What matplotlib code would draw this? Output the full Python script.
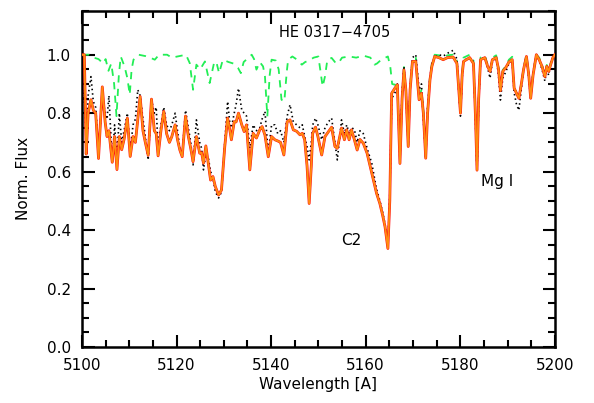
import matplotlib

matplotlib.use("Agg")
import matplotlib.pyplot as plt
from matplotlib.ticker import MultipleLocator

# model spectrum (synthetic, with C2)
wl_model = [
    5100.0, 5100.5, 5100.9, 5101.3, 5101.9, 5102.4, 5102.9, 5103.5, 5104.3, 5104.9,
    5105.3, 5105.7, 5106.4, 5106.9, 5107.4, 5107.9, 5108.4, 5108.9, 5109.6, 5110.2,
    5110.8, 5111.3, 5111.8, 5112.3, 5112.9, 5113.4, 5114.0, 5114.7, 5115.3, 5115.7,
    5116.1, 5116.7, 5117.3, 5117.9, 5118.5, 5119.0, 5119.7, 5120.2, 5120.7, 5121.2,
    5121.9, 5122.5, 5123.0, 5123.5, 5124.2, 5124.9, 5125.3, 5125.7, 5126.2, 5126.7,
    5127.2, 5127.7, 5128.2, 5128.9, 5129.5, 5130.2, 5130.8, 5131.3, 5131.6, 5132.2,
    5132.6, 5133.1, 5133.8, 5134.3, 5134.8, 5135.5, 5136.2, 5136.9, 5137.6, 5138.1,
    5138.7, 5139.4, 5140.1, 5140.8, 5141.4, 5142.0, 5142.7, 5143.4, 5144.0, 5144.7,
    5145.4, 5146.1, 5146.6, 5147.1, 5147.6, 5148.05, 5148.5, 5148.8, 5149.4, 5149.9,
    5150.7, 5151.4, 5152.1, 5152.8, 5153.5, 5154.0, 5154.9, 5155.5, 5156.0, 5156.5,
    5157.0, 5157.6, 5158.2, 5158.8, 5159.5, 5160.3, 5161.3, 5162.3, 5163.0, 5163.6,
    5164.1, 5164.7, 5165.1, 5165.5, 5166.2, 5166.7, 5167.25, 5167.7, 5168.1, 5168.5,
    5169.0, 5169.4, 5169.9, 5170.6, 5171.3, 5171.8, 5172.2, 5172.7, 5173.1, 5173.6,
    5174.0, 5174.6, 5175.5, 5176.4, 5177.3, 5178.5, 5179.3, 5179.7, 5180.05, 5180.4,
    5180.7, 5182.0, 5182.8, 5183.2, 5183.55, 5183.9, 5184.3, 5185.2, 5185.8, 5186.3,
    5186.8, 5187.6, 5188.1, 5188.5, 5189.0, 5189.6, 5190.3, 5191.0, 5191.4, 5191.9,
    5192.4, 5192.9, 5193.4, 5194.0, 5194.5, 5194.9, 5195.4, 5196.1, 5196.7, 5197.3,
    5197.9, 5198.3, 5198.7, 5199.2, 5199.6, 5200.0,
]
flux_model = [
    1.00, 1.00, 0.66, 0.80, 0.846, 0.81, 0.80, 0.645, 0.89, 0.77,
    0.72, 0.74, 0.632, 0.72, 0.607, 0.72, 0.675, 0.71, 0.783, 0.652,
    0.72, 0.70, 0.78, 0.857, 0.74, 0.70, 0.656, 0.848, 0.74, 0.73,
    0.654, 0.74, 0.806, 0.73, 0.70, 0.72, 0.76, 0.71, 0.674, 0.651,
    0.79, 0.72, 0.68, 0.634, 0.72, 0.663, 0.665, 0.629, 0.688, 0.629,
    0.571, 0.583, 0.549, 0.52, 0.537, 0.686, 0.783, 0.74, 0.709, 0.771,
    0.77, 0.80, 0.76, 0.737, 0.76, 0.606, 0.731, 0.715, 0.743, 0.754,
    0.725, 0.651, 0.72, 0.709, 0.705, 0.70, 0.657, 0.771, 0.777, 0.743,
    0.738, 0.726, 0.731, 0.709, 0.62, 0.491, 0.62, 0.731, 0.752, 0.72,
    0.657, 0.72, 0.736, 0.752, 0.686, 0.68, 0.749, 0.709, 0.743, 0.709,
    0.743, 0.71, 0.674, 0.71, 0.697, 0.663, 0.594, 0.526, 0.491, 0.45,
    0.411, 0.337, 0.50, 0.868, 0.886, 0.897, 0.628, 0.85, 0.948, 0.88,
    0.686, 0.88, 0.977, 0.977, 0.846, 0.868, 0.80, 0.646, 0.80, 0.914,
    0.96, 0.994, 0.99, 0.983, 0.99, 0.992, 0.97, 0.88, 0.80, 0.93,
    0.977, 0.99, 0.97, 0.80, 0.605, 0.85, 0.983, 0.99, 0.96, 0.943,
    0.983, 0.99, 0.95, 0.877, 0.943, 0.955, 0.975, 0.983, 0.886, 0.868,
    0.851, 0.897, 0.95, 0.994, 0.93, 0.851, 0.93, 1.00, 0.983, 0.96,
    0.925, 0.96, 0.943, 0.97, 0.99, 1.00,
]
# observed spectrum, read on the same wavelength grid
flux_obs = [
    0.82, 0.88, 0.70, 0.86, 0.925, 0.84, 0.82, 0.67, 0.86, 0.80,
    0.78, 0.86, 0.63, 0.76, 0.64, 0.80, 0.70, 0.74, 0.80, 0.67,
    0.76, 0.78, 0.88, 0.86, 0.78, 0.72, 0.64, 0.846, 0.80, 0.82,
    0.68, 0.76, 0.82, 0.76, 0.74, 0.76, 0.80, 0.74, 0.68, 0.657,
    0.81, 0.75, 0.70, 0.623, 0.777, 0.70, 0.68, 0.606, 0.66, 0.65,
    0.60, 0.58, 0.531, 0.51, 0.53, 0.70, 0.84, 0.76, 0.75, 0.80,
    0.83, 0.885, 0.81, 0.80, 0.79, 0.68, 0.76, 0.74, 0.75, 0.78,
    0.806, 0.663, 0.76, 0.76, 0.73, 0.74, 0.70, 0.79, 0.829, 0.77,
    0.76, 0.75, 0.76, 0.72, 0.686, 0.64, 0.70, 0.76, 0.783, 0.76,
    0.709, 0.75, 0.77, 0.783, 0.70, 0.64, 0.777, 0.73, 0.76, 0.73,
    0.75, 0.745, 0.70, 0.74, 0.73, 0.68, 0.628, 0.54, 0.50, 0.46,
    0.42, 0.345, 0.52, 0.85, 0.87, 0.90, 0.64, 0.87, 0.96, 0.87,
    0.69, 0.89, 0.99, 1.00, 0.88, 0.90, 0.78, 0.65, 0.82, 0.92,
    0.97, 0.99, 1.00, 0.995, 1.005, 1.015, 0.985, 0.87, 0.79, 0.92,
    0.98, 0.99, 0.975, 0.79, 0.60, 0.84, 0.98, 0.995, 0.955, 0.92,
    0.975, 0.99, 0.93, 0.845, 0.92, 0.94, 0.97, 0.98, 0.87, 0.83,
    0.81, 0.88, 0.95, 0.995, 0.92, 0.85, 0.94, 1.00, 0.98, 0.95,
    0.91, 0.95, 0.93, 0.975, 0.99, 1.00,
]
# synthetic spectrum without C2 (atomic lines only)
wl_atomic = [
    5100.0, 5101.5, 5102.5, 5103.5, 5104.5, 5105.0, 5105.6, 5106.2, 5106.8, 5107.3,
    5107.8, 5108.2, 5109.0, 5109.6, 5110.1, 5110.5, 5110.9, 5112.0, 5113.5, 5114.4,
    5115.4, 5116.3, 5118.0, 5119.0, 5120.5, 5122.0, 5122.8, 5123.5, 5124.2, 5125.0,
    5126.0, 5127.0, 5128.0, 5128.5, 5129.0, 5129.8, 5131.0, 5132.0, 5133.0, 5133.6,
    5134.2, 5135.9, 5136.4, 5136.9, 5137.6, 5138.3, 5138.7, 5139.2, 5139.7, 5140.1,
    5141.0, 5141.6, 5142.2, 5142.8, 5143.3, 5143.6, 5144.5, 5145.5, 5146.5, 5147.2,
    5148.0, 5149.0, 5150.0, 5150.5, 5150.9, 5151.4, 5151.9, 5152.8, 5153.5, 5154.2,
    5155.0, 5156.5, 5158.0, 5159.5, 5161.0, 5161.9, 5162.4, 5163.3, 5164.7, 5165.2,
    5165.6, 5166.2, 5166.7, 5167.25, 5167.7, 5168.1, 5168.5, 5169.0, 5169.4, 5169.9,
    5170.6, 5171.3, 5171.8, 5172.2, 5172.7, 5173.1, 5173.6, 5174.0, 5174.6, 5175.5,
    5176.4, 5177.3, 5178.5, 5179.3, 5179.7, 5180.05, 5180.4, 5180.7, 5182.0, 5182.8,
    5183.2, 5183.55, 5183.9, 5184.3, 5185.2, 5185.8, 5186.3, 5186.8, 5187.6, 5188.1,
    5188.5, 5189.0, 5189.6, 5190.3, 5191.0, 5191.4, 5191.9, 5192.4, 5192.9, 5193.4,
    5194.0, 5194.5, 5194.9, 5195.4, 5196.1, 5196.7, 5197.3, 5197.9, 5198.3, 5198.7,
    5199.2, 5199.6, 5200.0,
]
flux_atomic = [
    1.00, 1.00, 0.99, 0.985, 0.97, 0.985, 0.945, 0.97, 0.90, 0.79,
    0.93, 0.994, 0.96, 0.92, 0.863, 0.95, 0.983, 1.00, 0.995, 0.99,
    0.983, 1.00, 1.00, 0.99, 0.995, 1.00, 0.971, 0.88, 0.966, 0.95,
    0.977, 0.903, 0.977, 0.97, 0.937, 0.983, 0.975, 0.97, 0.955, 0.937,
    0.975, 1.00, 0.985, 0.949, 0.975, 0.96, 0.926, 0.789, 0.93, 0.983,
    0.98, 0.95, 0.846, 0.84, 0.94, 0.983, 0.994, 0.983, 0.966, 0.975,
    0.98, 0.99, 0.994, 0.937, 0.891, 0.926, 0.983, 0.989, 0.975, 0.97,
    0.99, 0.994, 0.99, 0.997, 0.99, 0.966, 0.97, 0.983, 0.994, 0.96,
    0.90, 0.897, 0.905, 0.635, 0.86, 0.958, 0.89, 0.69, 0.89, 0.99,
    0.99, 0.855, 0.88, 0.81, 0.65, 0.81, 0.925, 0.97, 1.00, 0.998,
    0.992, 0.998, 1.00, 0.98, 0.885, 0.80, 0.935, 0.99, 1.00, 0.98,
    0.80, 0.605, 0.855, 0.99, 0.998, 0.965, 0.948, 0.99, 0.998, 0.955,
    0.88, 0.948, 0.96, 0.983, 0.993, 0.89, 0.87, 0.855, 0.90, 0.955,
    1.00, 0.935, 0.855, 0.935, 1.00, 0.99, 0.965, 0.93, 0.965, 0.948,
    0.975, 0.995, 1.00,
]

title = "HE 0317\u22124705"

fig = plt.figure(figsize=(5.94, 4.03), dpi=100)
ax = fig.add_axes([0.138, 0.139, 0.796, 0.834])

ax.plot(wl_atomic, flux_atomic, color="#22ee55", linewidth=1.3, dashes=(4, 3.5), zorder=2)
ax.plot(wl_model, flux_obs, color="black", linewidth=1.2, dashes=(0.9, 1.8), zorder=3)
ax.plot(wl_model, flux_model, color="#ff1010", linewidth=2.0, zorder=4,
        solid_joinstyle="round")
ax.plot(wl_model, flux_model, color="#ff8c10", linewidth=1.3, zorder=5,
        solid_joinstyle="round")

ax.set_xlim(5100, 5200)
ax.set_ylim(0.0, 1.15)
ax.xaxis.set_major_locator(MultipleLocator(20))
ax.xaxis.set_minor_locator(MultipleLocator(5))
ax.yaxis.set_major_locator(MultipleLocator(0.2))
ax.yaxis.set_minor_locator(MultipleLocator(0.05))
ax.yaxis.set_major_formatter(plt.FormatStrFormatter("%.1f"))
ax.tick_params(which="both", direction="in", top=True, right=True, width=1.5,
               labelsize=11, pad=8)
ax.tick_params(which="major", length=9)
ax.tick_params(which="minor", length=5)
for sp in ax.spines.values():
    sp.set_linewidth(1.8)

ax.set_xlabel("Wavelength [A]", fontsize=11, labelpad=3)
ax.set_ylabel("Norm. Flux", fontsize=11, labelpad=11)

ax.text(5153.5, 1.075, title, ha="center", va="center", fontsize=10.5)
ax.text(5157.0, 0.365, "C2", ha="center", va="center", fontsize=11)
ax.text(5187.7, 0.565, "Mg I", ha="center", va="center", fontsize=11)

fig.savefig("out.png", dpi=100)
